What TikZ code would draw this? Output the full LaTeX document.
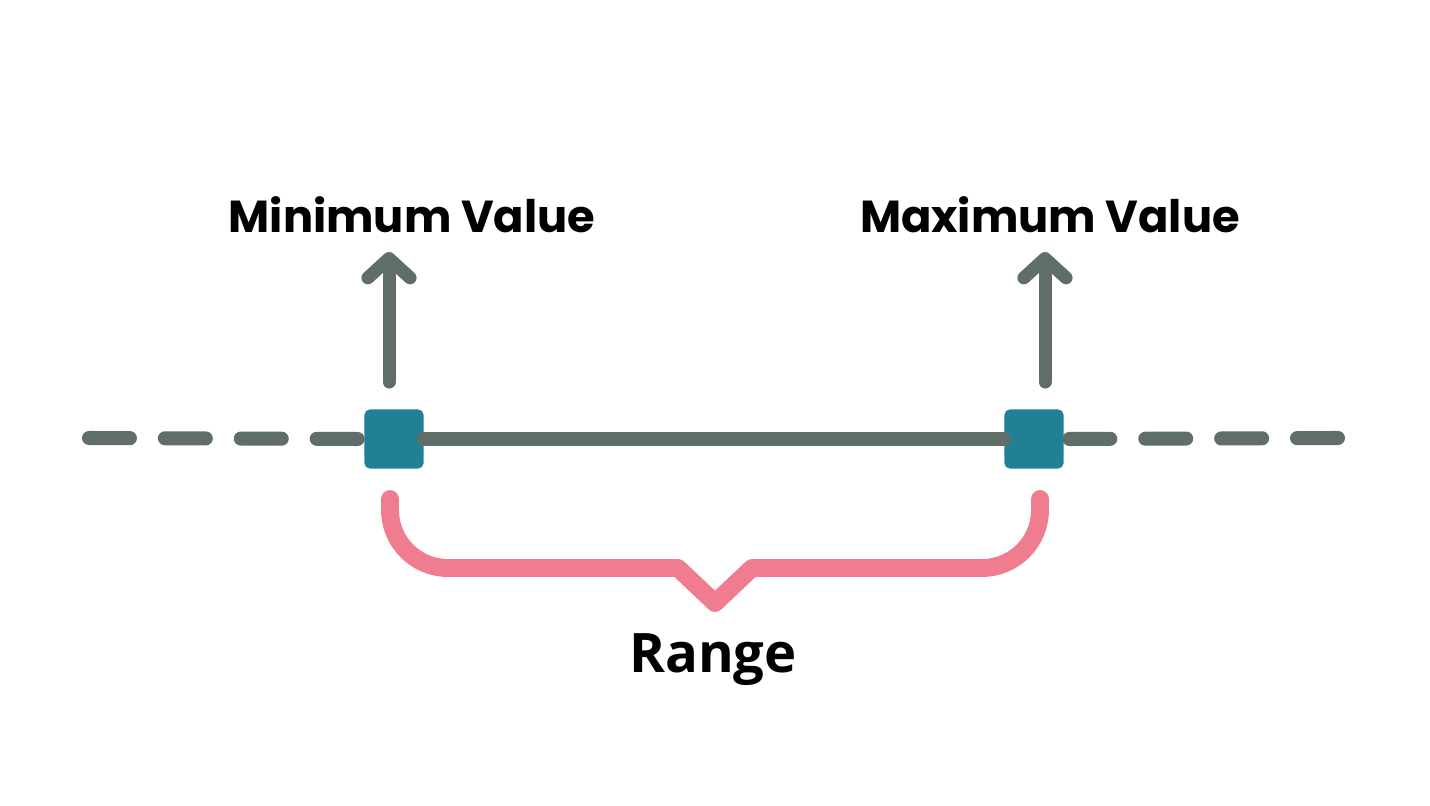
\documentclass[tikz,border=0pt]{standalone}
\usepackage{fontspec}
\setmainfont{Poppins}
\newfontfamily\rangefont{Open Sans}
\usetikzlibrary{arrows.meta}
\definecolor{axisgray}{HTML}{5F6E69}
\definecolor{markteal}{HTML}{217F96}
\definecolor{bracepink}{HTML}{F07D8F}
\tikzset{
  axisline/.style={line width=8pt, draw=axisgray, line cap=round},
  axisdash/.style={axisline, dash pattern=on 23.3pt off 19.9pt},
  marker/.style={rectangle, rounded corners=3pt, fill=markteal, minimum size=33.6pt, inner sep=0pt},
  pointer/.style={line width=7.4pt, draw=axisgray, line cap=round, -{Straight Barb[round, length=11pt, width=24pt]}},
  bracepath/.style={line width=10.2pt, draw=bracepink, line cap=round, line join=round},
  valuelabel/.style={font=\bfseries\fontsize{25.5}{30}\selectfont, text=black, inner sep=0pt},
  rangelabel/.style={font=\rangefont\bfseries\fontsize{31}{34}\selectfont, text=black, inner sep=0pt}
}

\begin{document}
\begin{tikzpicture}[x=0.02cm, y=-0.02cm]
  \useasboundingbox (0,0) rectangle (1430,805);

  \node[marker] (minbox) at (394,439) {};
  \node[marker] (maxbox) at (1034,439) {};
  \coordinate (leftend) at (89,438);
  \coordinate (rightend) at (1338,438);

  % number line
  \draw[axisdash] (leftend) -- (minbox.west);
  \draw[axisline] (minbox) -- (maxbox);
  \draw[axisdash] (rightend) -- (maxbox.east);

  % pointers to the labels
  \coordinate (minfoot) at (389,382);
  \coordinate (mintip) at (389,252);
  \coordinate (maxfoot) at (1045,382);
  \coordinate (maxtip) at (1045,252);
  \draw[pointer] (minfoot) -- (mintip);
  \draw[pointer] (maxfoot) -- (maxtip);

  \node[valuelabel, anchor=base] (minlabel) at (412,232) {Minimum Value};
  \node[valuelabel, anchor=base] (maxlabel) at (1050,232) {Maximum Value};

  % brace under the interval
  \coordinate (bracel) at (390,499);
  \coordinate (bracer) at (1040,499);
  \coordinate (bracetip) at (715,603);
  \draw[bracepath] (bracel) -- (390,510) arc[start angle=180, end angle=90, radius=58]
    -- (678,568) -- (bracetip) -- (752,568) -- (982,568)
    arc[start angle=90, end angle=0, radius=58] -- (bracer);

  \node[rangelabel, anchor=base] (rangelabel) at (713,672) {Range};
\end{tikzpicture}
\end{document}
